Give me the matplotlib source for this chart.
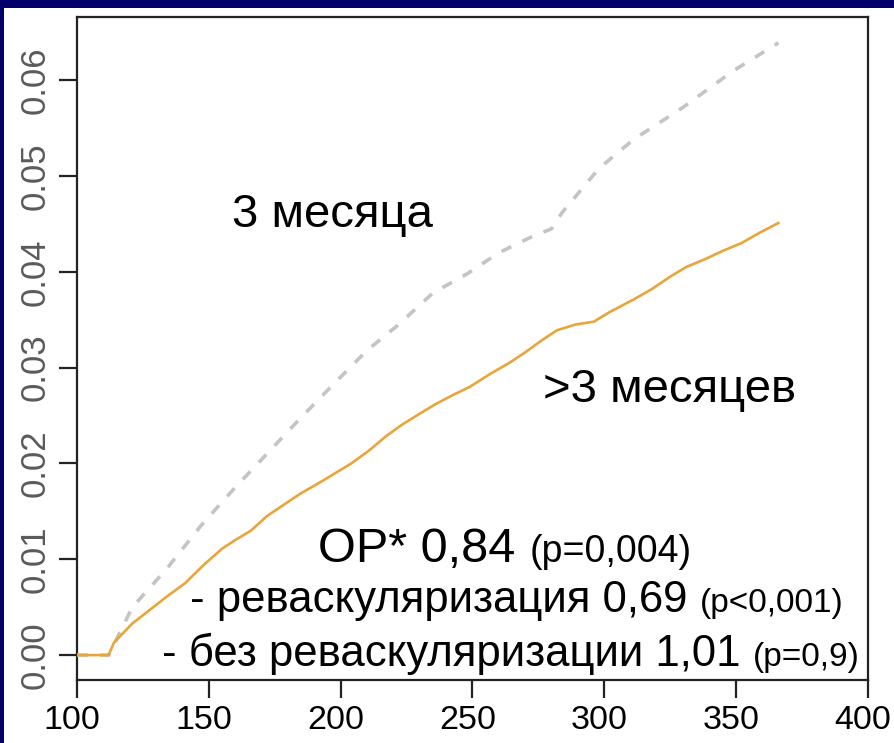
import matplotlib
matplotlib.use("Agg")
import matplotlib.pyplot as plt
from matplotlib.patches import Rectangle
from matplotlib.transforms import ScaledTranslation
from matplotlib.offsetbox import TextArea, HPacker, AnnotationBbox

plt.rcParams["font.family"] = ["Liberation Sans", "DejaVu Sans"]

# Cumulative incidence, group "3 месяца" (dashed grey)
days_3m = [100, 112, 121, 134, 147, 159, 172, 185, 197, 210, 222, 235,
           248, 260, 272, 280, 284, 298, 311, 330, 349, 366]
risk_3m = [0.0, 0.0, 0.0050, 0.0090, 0.0135, 0.0172, 0.0210, 0.0248,
           0.0282, 0.0318, 0.0345, 0.0378, 0.0398, 0.0420, 0.0436, 0.0445,
           0.0462, 0.0508, 0.0538, 0.0572, 0.0610, 0.0639]

# Cumulative incidence, group ">3 месяцев" (solid orange)
days_gt3m = [100, 112, 114, 121, 128, 134, 141, 148, 155, 160, 166, 172,
             179, 185, 192, 198, 204, 211, 217, 223, 230, 236, 243, 249,
             257, 264, 270, 276, 282, 289, 296, 302, 311, 318, 325, 331,
             338, 345, 352, 359, 366]
risk_gt3m = [0.0, 0.0, 0.0013, 0.0033, 0.0048, 0.0061, 0.0075, 0.0094,
             0.0111, 0.0120, 0.0130, 0.0145, 0.0158, 0.0169, 0.0180, 0.0190,
             0.0200, 0.0214, 0.0228, 0.0240, 0.0252, 0.0262, 0.0272, 0.0280,
             0.0294, 0.0305, 0.0316, 0.0328, 0.0339, 0.0345, 0.0348, 0.0358,
             0.0371, 0.0382, 0.0395, 0.0405, 0.0413, 0.0422, 0.0430, 0.0441,
             0.0451]

x_ticks = [100, 150, 200, 250, 300, 350, 400]
y_ticks = [0.00, 0.01, 0.02, 0.03, 0.04, 0.05, 0.06]

W, H = 894, 743
fig = plt.figure(figsize=(W / 100, H / 100), dpi=100)
fig.patch.set_facecolor("#02006B")
fig.patches.append(Rectangle((4 / W, 0), (W - 4) / W, (H - 8) / H,
                             transform=fig.transFigure, facecolor="white",
                             edgecolor="none", zorder=-10))

ax = fig.add_axes([77 / W, (H - 680) / H, (868 - 77) / W, (680 - 17) / H])
ax.set_zorder(1)
ax.set_facecolor("white")
ax.set_xlim(100, 400)
ax.set_ylim(-0.0026, 0.0666)

ax.plot(days_3m, risk_3m, color="#C4C4C4", lw=2.6, ls=(0, (3.0, 3.4)),
        zorder=3)
ax.plot(days_gt3m, risk_gt3m, color="#E9A53A", lw=1.9, zorder=4)

for s in ax.spines.values():
    s.set_linewidth(1.6)
    s.set_color("#222222")

ax.set_xticks(x_ticks)
ax.set_xticklabels([str(v) for v in x_ticks])
ax.set_yticks(y_ticks)
ax.set_yticklabels([f"{v:.2f}" for v in y_ticks], rotation=90, va="center")
ax.tick_params(axis="x", length=13, width=1.6, color="#222222", pad=5,
               labelsize=24.5, labelcolor="black")
ax.tick_params(axis="y", length=13, width=1.6, color="#222222", pad=5,
               labelsize=25, labelcolor="#5A5A5A")

# day labels sit a few pixels left of their ticks
shift = ScaledTranslation(-5 / 100, 0, fig.dpi_scale_trans)
for lbl in ax.get_xticklabels():
    lbl.set_transform(lbl.get_transform() + shift)

ax.text(196.7, 0.0459, "3 месяца", fontsize=34, ha="center", va="center",
        color="black")
ax.text(324.9, 0.0277, ">3 месяцев", fontsize=34, ha="center", va="center",
        color="black")


def mixed_line(parts, xy):
    boxes = [TextArea(t, textprops=dict(fontsize=fs, color="black"))
             for t, fs in parts]
    pack = HPacker(children=boxes, align="baseline", pad=0, sep=0)
    ab = AnnotationBbox(pack, xy, xycoords="data", frameon=False,
                        box_alignment=(0.5, 0.5), pad=0)
    ax.add_artist(ab)


mixed_line([("ОР* 0,84 ", 35), ("(p=0,004)", 27)], (262.3, 0.0110))
mixed_line([("- реваскуляризация 0,69 ", 31.5), ("(p<0,001)", 24)],
           (266.9, 0.0057))
mixed_line([("- без реваскуляризации 1,01 ", 31.5), ("(p=0,9)", 24)],
           (264.6, 0.0001))

fig.savefig("out.png", dpi=100, facecolor=fig.get_facecolor())
